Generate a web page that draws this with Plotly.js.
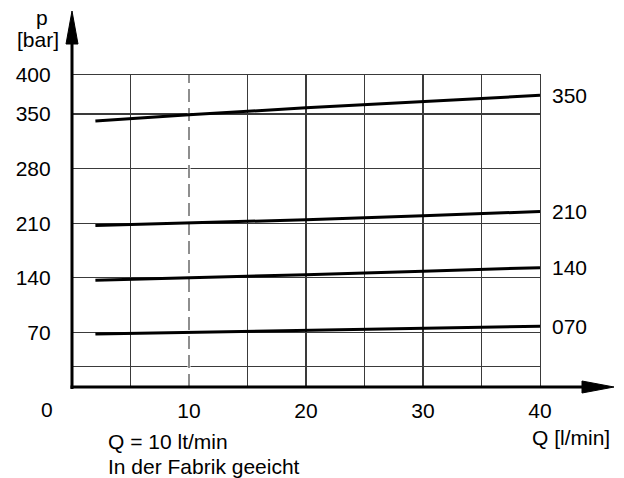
<!DOCTYPE html>
<html><head><meta charset="utf-8">
<script src="https://cdn.plot.ly/plotly-3.0.1.min.js"></script>
<style>html,body{margin:0;padding:0;background:#fff}</style>
</head><body><div id="chart" style="width:624px;height:478px"></div>
<script>
// Data
const flowQ = [2, 10, 20, 30, 40];
const p350 = [341, 349, 358, 366, 374];
const p210 = [207, 210, 214.5, 219.5, 225];
const p140 = [137, 140, 144, 148.5, 153];
const p070 = [68, 70, 73, 75.5, 78];
const seriesNames = ["350", "210", "140", "070"];
const seriesValues = [p350, p210, p140, p070];
const xTickVals = [5, 10, 15, 20, 25, 30, 35, 40];
const xTickText = ["", "10", "", "20", "", "30", "", "40"];
const yTickVals = [26, 70, 140, 210, 280, 350, 400];
const yTickText = ["", "70", "140", "210", "280", "350", "400"];
const calibQ = 10;

const FONT = "Liberation Sans";
const FS = 21;
const W = 624, H = 478;
const L = 72, R = 84, T = 75, B = 91;
const pw = W - L - R, ph = H - T - B;
const px = v => (v - L) / pw;           // pixel -> paper x
const py = v => (H - B - v) / ph;       // pixel -> paper y

const traces = seriesValues.map((vals, i) => ({
  type: "scatter", mode: "lines", x: flowQ, y: vals, name: seriesNames[i],
  line: {color: "#000", width: 3}, hoverinfo: "skip"
}));

const annotations = seriesValues.map((vals, i) => ({
  x: flowQ[flowQ.length - 1], y: vals[vals.length - 1], xref: "x", yref: "y",
  text: seriesNames[i], showarrow: false, xanchor: "left", yanchor: "middle",
  xshift: 10, font: {family: FONT, size: FS, color: "#000"}
}));
const txt = (x, y, text, xa) => ({
  x: px(x), y: py(y), xref: "paper", yref: "paper", text, showarrow: false,
  xanchor: xa, yanchor: "middle", font: {family: FONT, size: FS, color: "#000"}
});
annotations.push(txt(47, 409, "0", "center"));
annotations.push(txt(42, 18, "p", "center"));
annotations.push(txt(38, 40, "[bar]", "center"));
annotations.push(txt(612, 437, "Q [l/min]", "right"));
annotations.push(txt(106, 441, "Q = 10 lt/min", "left"));
annotations.push(txt(106, 466, "In der Fabrik geeicht", "left"));

const shapes = [
  // cover the solid grid at the calibration flow and draw it dashed
  {type: "line", xref: "x", yref: "y", x0: calibQ, x1: calibQ, y0: 0, y1: 400,
   line: {color: "#fff", width: 3}, layer: "between"},
  {type: "line", xref: "x", yref: "y", x0: calibQ, x1: calibQ, y0: 0, y1: 400,
   line: {color: "#444", width: 1.2, dash: "13px,6px"}, layer: "between"},
  // axes with arrows
  {type: "line", xref: "paper", yref: "paper", x0: 0, x1: 0, y0: py(389), y1: py(40),
   line: {color: "#000", width: 3}, layer: "above"},
  {type: "path", xref: "paper", yref: "paper",
   path: `M ${px(72)},${py(11)} L ${px(66)},${py(44)} L ${px(78)},${py(44)} Z`,
   fillcolor: "#000", line: {color: "#000", width: 1}, layer: "above"},
  {type: "line", xref: "paper", yref: "paper", x0: px(70.5), x1: px(586), y0: 0, y1: 0,
   line: {color: "#000", width: 3}, layer: "above"},
  {type: "path", xref: "paper", yref: "paper",
   path: `M ${px(614)},${py(387)} L ${px(582)},${py(381)} L ${px(582)},${py(393)} Z`,
   fillcolor: "#000", line: {color: "#000", width: 1}, layer: "above"}
];

const axisCommon = {
  tickmode: "array", showgrid: true, gridcolor: "#3a3a3a", gridwidth: 1.1,
  zeroline: false, showline: true, mirror: true, linecolor: "#3a3a3a", linewidth: 1.1,
  ticks: "", tickfont: {family: FONT, size: FS, color: "#000"}, fixedrange: true
};
const layout = {
  width: W, height: H, margin: {l: L, r: R, t: T, b: B, pad: 0},
  paper_bgcolor: "#fff", plot_bgcolor: "#fff", showlegend: false,
  font: {family: FONT, size: FS, color: "#000"},
  xaxis: Object.assign({}, axisCommon, {range: [0, 40], tickvals: xTickVals, ticktext: xTickText,
          ticklabelstandoff: 5}),
  yaxis: Object.assign({}, axisCommon, {range: [0, 400], tickvals: yTickVals, ticktext: yTickText,
          ticklabelstandoff: 16}),
  shapes, annotations
};
Plotly.newPlot("chart", traces, layout, {displayModeBar: false, staticPlot: true});
</script></body></html>
